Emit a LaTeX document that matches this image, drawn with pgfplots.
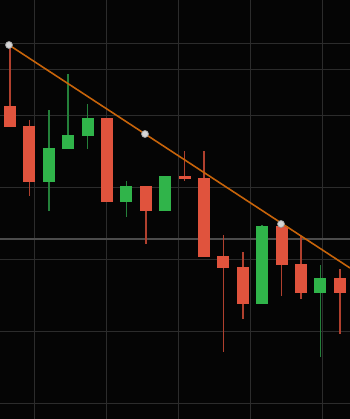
\documentclass[border=0pt]{standalone}
\usepackage{pgfplots}
\usepackage{pgfplotstable}
\pgfplotsset{compat=1.18}
\definecolor{bg}{HTML}{050505}
\definecolor{gridc}{HTML}{2C2C2C}
\definecolor{redbody}{HTML}{E0533D}
\definecolor{redwick}{HTML}{B0402E}
\definecolor{greenbody}{HTML}{30B44A}
\definecolor{greenwick}{HTML}{24803A}
\definecolor{trend}{HTML}{C8640A}
\definecolor{dotc}{HTML}{D6D6D6}
% x = position, values in chart units (higher = up)
\pgfplotstableread{
x open high low close
10.0 313 374 292 292
29.4 293 299 223 237
107.0 301 301 217 217
145.8 233 233 175 208
184.6 243 268 238 240
204.0 241 268 162 162
223.4 163 184 67 151
242.8 152 167 100 115
281.6 193 195 123 154
301.0 155 183 120 126
339.8 141 150 85 126
}\redtable
\pgfplotstableread{
x open high low close
48.8 237 309 208 271
68.2 270 345 270 284
87.6 283 315 270 301
126.4 217 238 202 233
165.2 208 243 208 243
262.2 115 194 115 193
320.4 126 154 62 141
}\greentable
\pgfplotstableread{
x y
9 374
145 285
281 195
}\pivots
\begin{document}
\begin{tikzpicture}
\begin{axis}[
  width=7cm, height=8.38cm, scale only axis,
  xmin=0, xmax=350, ymin=0, ymax=419,
  axis background/.style={fill=bg},
  axis line style={draw=none},
  xtick={34,106,178,250,322},
  ytick={16,88,160,232,304,376},
  xticklabels={}, yticklabels={},
  major tick length=0pt,
  grid=major,
  major grid style={draw=gridc, line width=0.5pt},
]
% extra horizontal lines
\addplot[draw=white!17!black, line width=0.55pt, forget plot] coordinates {(0,350) (350,350)};
\addplot[draw=white!30!black, line width=1.1pt, forget plot] coordinates {(0,180) (350,180)};
% wicks
\addplot[draw=none, mark=none, forget plot,
  error bars/.cd, y dir=plus, y explicit, error mark=none,
  error bar style={draw=redwick, line width=0.8pt}]
  table[x=x, y=low, y error plus expr=\thisrow{high}-\thisrow{low}] {\redtable};
\addplot[draw=none, mark=none, forget plot,
  error bars/.cd, y dir=plus, y explicit, error mark=none,
  error bar style={draw=greenwick, line width=0.8pt}]
  table[x=x, y=low, y error plus expr=\thisrow{high}-\thisrow{low}] {\greentable};
% bodies
\addplot[draw=none, mark=none, forget plot,
  error bars/.cd, y dir=plus, y explicit, error mark=none,
  error bar style={draw=redbody, line width=6.8pt, line cap=butt}]
  table[x=x, y=close, y error plus expr=\thisrow{open}-\thisrow{close}] {\redtable};
\addplot[draw=none, mark=none, forget plot,
  error bars/.cd, y dir=plus, y explicit, error mark=none,
  error bar style={draw=greenbody, line width=6.8pt, line cap=butt}]
  table[x=x, y=open, y error plus expr=\thisrow{close}-\thisrow{open}] {\greentable};
% trend line
\addplot[trend, line width=0.9pt, forget plot] coordinates {(9,374) (350,151)};
\addplot[only marks, mark=*, mark size=2pt, mark options={fill=dotc, draw=dotc!70!black}, forget plot]
  table[x=x, y=y] {\pivots};
\end{axis}
\pgfresetboundingbox
\useasboundingbox (current axis.south west) rectangle (current axis.north east);
\end{tikzpicture}
\end{document}
